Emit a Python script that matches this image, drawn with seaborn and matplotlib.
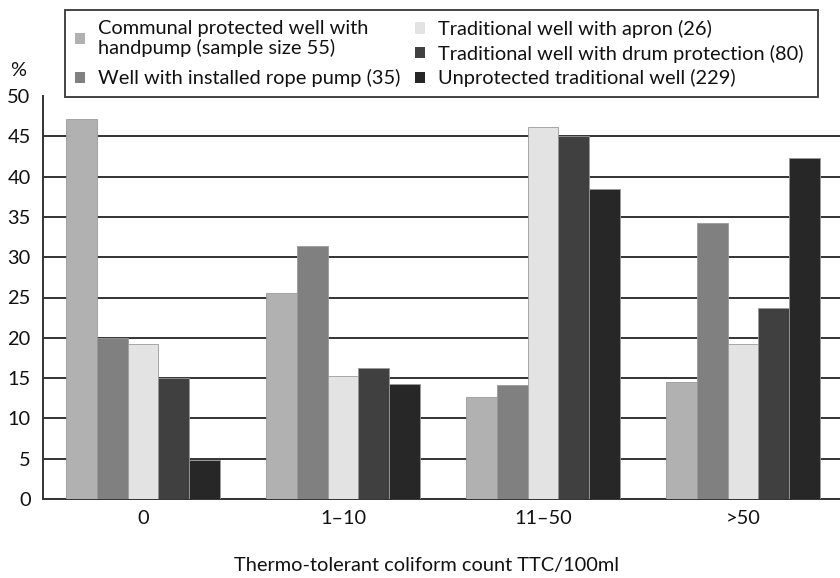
import pandas as pd
import seaborn as sns
import numpy as np
import matplotlib.pyplot as plt
from matplotlib.patches import Rectangle, Patch

categories = ["0", "1\u201310", "11\u201350", ">50"]
series = [
    "Communal protected well with\nhandpump (sample size 55)",
    "Well with installed rope pump (35)",
    "Traditional well with apron (26)",
    "Traditional well with drum protection (80)",
    "Unprotected traditional well (229)",
]
communal = [47.2, 25.5, 12.7, 14.5]
rope_pump = [20.0, 31.4, 14.2, 34.2]
apron = [19.2, 15.3, 46.1, 19.2]
drum = [15.0, 16.3, 45.0, 23.7]
unprotected = [4.8, 14.3, 38.4, 42.3]
colors = ["#b1b1b1", "#808080", "#e3e3e3", "#404040", "#272727"]

values = [communal, rope_pump, apron, drum, unprotected]
df = pd.DataFrame({
    "count": np.tile(categories, len(series)),
    "well": np.repeat(series, len(categories)),
    "pct": np.concatenate(values),
})

sns.set_style("white")
plt.rcParams["font.family"] = ["Lato", "DejaVu Sans"]
fs = 14.4
txt = "#111111"

fig = plt.figure(figsize=(8.4, 5.78), dpi=100)
ax = fig.add_axes([43 / 840, 1 - 499 / 578, 800 / 840, (499 - 96) / 578])

sns.barplot(data=df, x="count", y="pct", hue="well", order=categories,
            hue_order=series, palette=colors, width=0.77, saturation=1,
            edgecolor="#9a9a9a", linewidth=0.6, legend=False, ax=ax, zorder=3)

ax.set_ylim(0, 50)
ax.set_xlim(-0.5, 3.5)
ax.set_yticks(range(0, 55, 5))
ax.yaxis.grid(True, color="#333333", linewidth=1.4, zorder=0)
ax.set_axisbelow(True)
ax.yaxis.get_gridlines()[-1].set_visible(False)

ax.set_xticks([0.5, 1.5, 2.5], minor=True)
ax.tick_params(axis="x", which="major", length=0, pad=8, labelsize=fs)
ax.tick_params(axis="x", which="minor", length=5, width=1, color="#333333", direction="out")
ax.tick_params(axis="y", length=5, width=1, color="#333333", direction="out", pad=4, labelsize=fs)
ax.tick_params(axis="both", colors="#333333", labelcolor=txt)

sns.despine(ax=ax, top=True, right=True)
for s in ("left", "bottom"):
    ax.spines[s].set_color("#333333")
    ax.spines[s].set_linewidth(1.4)

ax.set_xlabel("Thermo-tolerant coliform count TTC/100ml", fontsize=fs, color=txt)
ax.xaxis.set_label_coords((426 - 43) / 800, -(566 - 499) / 403)
ax.xaxis.label.set_va("center")
ax.set_ylabel("")
fig.text(18 / 840, 1 - 70 / 578, "%", ha="center", va="center", fontsize=fs, color=txt)

# legend frame and two legend columns
fig.add_artist(Rectangle((65 / 840, 1 - 97 / 578), (818 - 65) / 840, (97 - 10) / 578,
                         transform=fig.transFigure, fill=False, edgecolor="#444444", linewidth=1.4))
handles = [Patch(facecolor=c, edgecolor="none") for c in colors]
leg_kw = dict(frameon=False, fontsize=fs, handlelength=0.5, handleheight=0.5,
              handletextpad=0.65, borderpad=0, borderaxespad=0, loc="upper left")
leg1 = fig.legend(handles[:2], series[:2], bbox_to_anchor=(75 / 840, 1 - 20 / 578),
                  labelspacing=0.62, **leg_kw)
leg2 = fig.legend(handles[2:], series[2:], bbox_to_anchor=(415 / 840, 1 - 20 / 578),
                  labelspacing=0.33, **leg_kw)
for leg in (leg1, leg2):
    for t in leg.get_texts():
        t.set_color(txt)
        t.set_linespacing(1.12)

fig.savefig("out.png", dpi=100)
